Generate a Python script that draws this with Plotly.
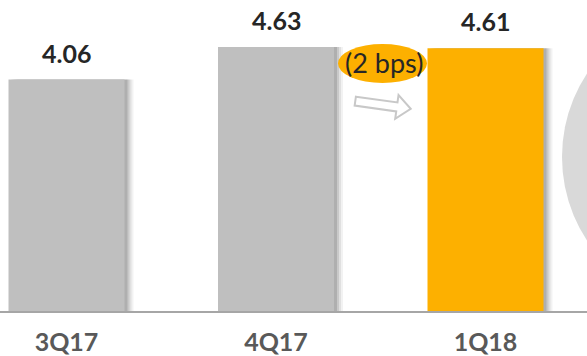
import math
import plotly.graph_objects as go

categories = ["3Q17", "4Q17", "1Q18"]
values = [4.06, 4.63, 4.61]
value_labels = ["4.06", "4.63", "4.61"]
bar_colors = ["#BFBFBF", "#BFBFBF", "#FDB000"]
change_label = "(2 bps)"

W, H = 587, 356
B = 45
PH = H - B  # plot area height in px
UNIT = 209.5  # px per category
BAR_W = 116 / UNIT

def px(x):
    return x / W

def py(y):
    return 1 - y / PH

fig = go.Figure()

# soft shadow layers to the right of each bar
for k, a in [(9, 0.05), (7, 0.07), (5, 0.10), (3, 0.13)]:
    fig.add_trace(go.Bar(
        x=categories, y=values, width=BAR_W, offset=-BAR_W / 2 + k / UNIT,
        marker=dict(color=f"rgba(0,0,0,{a})", line=dict(width=0)),
        hoverinfo="skip", showlegend=False,
    ))

fig.add_trace(go.Bar(
    x=categories, y=values, width=BAR_W, offset=-BAR_W / 2,
    marker=dict(color=bar_colors, line=dict(width=0)),
    showlegend=False,
))

for c, v, t in zip(categories, values, value_labels):
    fig.add_annotation(x=c, y=v, text=t, showarrow=False, yanchor="bottom",
                       yshift=10, font=dict(family="Lato", size=25, color="#262626", weight="bold"))

shapes = []
# large light-grey circle at right edge
shapes.append(dict(type="circle", xref="paper", yref="paper",
                   x0=px(562), x1=px(866), y0=py(309), y1=py(5),
                   fillcolor="#D9D9D9", line=dict(width=0), layer="below"))
# orange ellipse
shapes.append(dict(type="circle", xref="paper", yref="paper",
                   x0=px(338), x1=px(427), y0=py(83), y1=py(44),
                   fillcolor="#FDB000", line=dict(width=0), layer="above"))
# outline arrow
pts = [(355, 100.5), (397, 100.5), (397, 93), (411, 105), (397, 117), (397, 109.5), (355, 109.5)]
cx, cy, ang = 383, 105, math.radians(8)
rp = []
for x, y in pts:
    dx, dy = x - cx, y - cy
    rx = cx + dx * math.cos(ang) - dy * math.sin(ang)
    ry = cy + dx * math.sin(ang) + dy * math.cos(ang)
    rp.append((px(rx), py(ry)))
path = "M " + " L ".join(f"{a:.5f},{b:.5f}" for a, b in rp) + " Z"
shapes.append(dict(type="path", xref="paper", yref="paper", path=path,
                   fillcolor="white", line=dict(color="#C8C8C8", width=2), layer="above"))

fig.add_annotation(xref="paper", yref="paper", x=px(384), y=py(63), text=change_label,
                   xanchor="center", yanchor="middle",
                   showarrow=False, font=dict(family="Lato", size=27, color="#262626"))

fig.update_layout(
    width=W, height=H, margin=dict(l=0, r=0, t=0, b=B),
    barmode="overlay", plot_bgcolor="white", paper_bgcolor="white",
    shapes=shapes,
    xaxis=dict(range=[-66.5 / UNIT, -66.5 / UNIT + W / UNIT], showgrid=False, zeroline=False,
               showline=True, linecolor="#A6A6A6", linewidth=2, ticks="",
               ticklabelstandoff=8,
               tickfont=dict(family="Lato", size=25, color="#595959", weight="bold")),
    yaxis=dict(range=[0, PH / 57.0], visible=False, showgrid=False, zeroline=False),
)

fig.write_html("out.html")
